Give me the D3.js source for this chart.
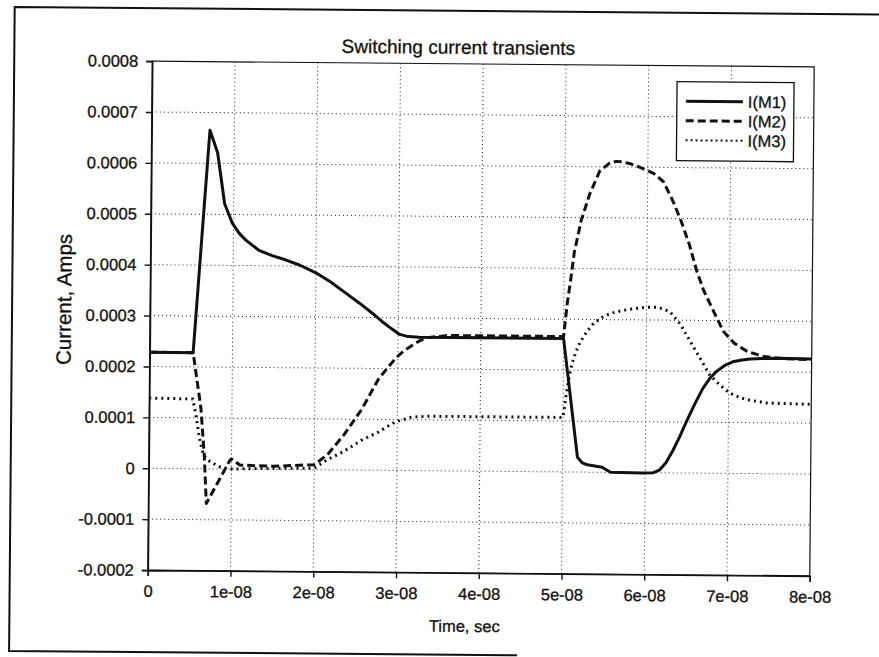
<!DOCTYPE html>
<html>
<head>
<meta charset="utf-8">
<script src="https://cdn.jsdelivr.net/npm/d3@7"></script>
<style>
body { margin: 0; background: #fff; }
svg { font-family: "Liberation Sans", Arial, sans-serif; }
svg text { stroke: #111; stroke-width: 0.3px; }
</style>
</head>
<body>
<svg width="879" height="657"></svg>
<script>
// time in seconds, current in amps
var m1Time = [0, 5.25e-9, 7.05e-9, 8.0e-9, 8.9e-9, 9.85e-9, 1.07e-8, 1.15e-8, 1.31e-8, 1.47e-8, 1.63e-8, 1.8e-8, 2.0e-8, 2.18e-8, 2.36e-8, 2.53e-8, 2.69e-8, 2.8e-8, 2.89e-8, 2.96e-8, 3.01e-8, 3.1e-8, 3.25e-8, 5.0e-8, 5.18e-8, 5.24e-8, 5.30e-8, 5.48e-8, 5.58e-8, 5.96e-8, 6.1e-8, 6.17e-8, 6.25e-8, 6.33e-8, 6.41e-8, 6.49e-8, 6.59e-8, 6.69e-8, 6.77e-8, 6.85e-8, 6.95e-8, 7.06e-8, 7.16e-8, 7.26e-8, 7.4e-8, 7.6e-8, 8.0e-8];
var m1Current = [2.28e-4, 2.28e-4, 6.65e-4, 6.21e-4, 5.21e-4, 4.83e-4, 4.63e-4, 4.5e-4, 4.3e-4, 4.2e-4, 4.12e-4, 4.02e-4, 3.87e-4, 3.69e-4, 3.48e-4, 3.28e-4, 3.08e-4, 2.93e-4, 2.82e-4, 2.74e-4, 2.68e-4, 2.64e-4, 2.62e-4, 2.62e-4, 0.29e-4, 0.18e-4, 0.145e-4, 0.10e-4, 0.0, -0.01e-4, 0.0, 0.05e-4, 0.2e-4, 0.43e-4, 0.7e-4, 1.0e-4, 1.35e-4, 1.67e-4, 1.86e-4, 2.0e-4, 2.12e-4, 2.2e-4, 2.23e-4, 2.25e-4, 2.26e-4, 2.27e-4, 2.26e-4];

var m2Time = [0, 5.25e-9, 6.25e-9, 6.7e-9, 7.0e-9, 9.8e-9, 1.0e-8, 1.1e-8, 1.5e-8, 2.0e-8, 2.16e-8, 2.36e-8, 2.57e-8, 2.77e-8, 2.97e-8, 3.07e-8, 3.17e-8, 3.27e-8, 3.37e-8, 3.6e-8, 5.0e-8, 5.04e-8, 5.08e-8, 5.12e-8, 5.2e-8, 5.3e-8, 5.42e-8, 5.54e-8, 5.62e-8, 5.7e-8, 5.8e-8, 5.9e-8, 6.07e-8, 6.19e-8, 6.31e-8, 6.41e-8, 6.51e-8, 6.6e-8, 6.69e-8, 6.81e-8, 6.93e-8, 7.06e-8, 7.22e-8, 7.42e-8, 7.7e-8, 8.0e-8];
var m2Current = [2.28e-4, 2.28e-4, 1.19e-4, 0.27e-4, -0.68e-4, 0.17e-4, 0.2e-4, 0.08e-4, 0.06e-4, 0.1e-4, 0.3e-4, 0.7e-4, 1.2e-4, 1.8e-4, 2.2e-4, 2.35e-4, 2.46e-4, 2.56e-4, 2.62e-4, 2.66e-4, 2.66e-4, 3.3e-4, 3.78e-4, 4.31e-4, 4.94e-4, 5.46e-4, 5.92e-4, 6.08e-4, 6.11e-4, 6.1e-4, 6.06e-4, 6.0e-4, 5.88e-4, 5.72e-4, 5.33e-4, 4.94e-4, 4.49e-4, 3.98e-4, 3.58e-4, 3.18e-4, 2.79e-4, 2.56e-4, 2.4e-4, 2.3e-4, 2.26e-4, 2.25e-4];

var m3Time = [0, 5.25e-9, 5.65e-9, 6.1e-9, 6.6e-9, 7.4e-9, 8.6e-9, 9.8e-9, 1.5e-8, 2.0e-8, 2.16e-8, 2.36e-8, 2.57e-8, 2.77e-8, 2.97e-8, 3.17e-8, 3.37e-8, 5.0e-8, 5.02e-8, 5.04e-8, 5.07e-8, 5.1e-8, 5.15e-8, 5.2e-8, 5.28e-8, 5.36e-8, 5.46e-8, 5.56e-8, 5.7e-8, 5.85e-8, 6.0e-8, 6.13e-8, 6.22e-8, 6.29e-8, 6.41e-8, 6.53e-8, 6.65e-8, 6.77e-8, 6.89e-8, 6.97e-8, 7.06e-8, 7.16e-8, 7.26e-8, 7.46e-8, 7.7e-8, 8.0e-8];
var m3Current = [1.38e-4, 1.37e-4, 1.06e-4, 0.6e-4, 0.27e-4, 0.14e-4, 0.04e-4, 0.0, 0.02e-4, 0.03e-4, 0.2e-4, 0.37e-4, 0.59e-4, 0.75e-4, 0.95e-4, 1.05e-4, 1.07e-4, 1.07e-4, 1.3e-4, 1.55e-4, 1.85e-4, 2.1e-4, 2.36e-4, 2.55e-4, 2.76e-4, 2.92e-4, 3.04e-4, 3.12e-4, 3.18e-4, 3.22e-4, 3.25e-4, 3.25e-4, 3.21e-4, 3.15e-4, 2.92e-4, 2.59e-4, 2.26e-4, 1.93e-4, 1.74e-4, 1.63e-4, 1.54e-4, 1.48e-4, 1.44e-4, 1.39e-4, 1.38e-4, 1.37e-4];

var seriesNames = ["I(M1)", "I(M2)", "I(M3)"];
var xTicks = [0, 1e-8, 2e-8, 3e-8, 4e-8, 5e-8, 6e-8, 7e-8, 8e-8];
var xTickLabels = ["0", "1e-08", "2e-08", "3e-08", "4e-08", "5e-08", "6e-08", "7e-08", "8e-08"];
var yTicks = [-2e-4, -1e-4, 0, 1e-4, 2e-4, 3e-4, 4e-4, 5e-4, 6e-4, 7e-4, 8e-4];
var yTickLabels = ["-0.0002", "-0.0001", "0", "0.0001", "0.0002", "0.0003", "0.0004", "0.0005", "0.0006", "0.0007", "0.0008"];

var svg = d3.select("svg"),
	margin = {top: 64, right: 67, bottom: 84, left: 150},
	width = +svg.attr("width") - margin.left - margin.right,
	height = +svg.attr("height") - margin.top - margin.bottom;

// the scanned original sits slightly tilted
var page = svg.append("g").attr("transform", "rotate(0.5,481,318.6)");

// outer frame of the scan
page.append("path")
	.attr("d", "M890,11 L12,11 L12,655 L520,655")
	.attr("fill", "none")
	.attr("stroke", "#111")
	.attr("stroke-width", 2);

var g = page.append("g").attr("transform", "translate(" + margin.left + "," + margin.top + ")");

var x = d3.scaleLinear().domain([0, 8e-8]).range([0, width]);
var y = d3.scaleLinear().domain([-2e-4, 8e-4]).range([height, 0]);

// dotted grid
g.append("g")
	.selectAll("line")
	.data(xTicks.slice(1, -1))
	.enter().append("line")
	.attr("x1", function (d) { return x(d); })
	.attr("x2", function (d) { return x(d); })
	.attr("y1", 0)
	.attr("y2", height)
	.attr("stroke", "#222")
	.attr("stroke-dasharray", "1,3");

g.append("g")
	.selectAll("line")
	.data(yTicks.slice(1, -1))
	.enter().append("line")
	.attr("y1", function (d) { return y(d); })
	.attr("y2", function (d) { return y(d); })
	.attr("x1", 0)
	.attr("x2", width)
	.attr("stroke", "#222")
	.attr("stroke-dasharray", "1,3");

g.append("rect")
	.attr("width", width)
	.attr("height", height)
	.attr("fill", "none")
	.attr("stroke", "#111")
	.attr("stroke-width", 1.2);

var xAxis = g.append("g")
	.attr("transform", "translate(0," + height + ")")
	.call(d3.axisBottom(x).tickValues(xTicks).tickSizeOuter(0).tickSize(6).tickPadding(9)
		.tickFormat(function (d, i) { return xTickLabels[i]; }));

var yAxis = g.append("g")
	.call(d3.axisLeft(y).tickValues(yTicks).tickSizeOuter(0).tickSize(6).tickPadding(8)
		.tickFormat(function (d, i) { return yTickLabels[i]; }));

[xAxis, yAxis].forEach(function (a) {
	a.select(".domain").attr("stroke", "#111").attr("stroke-width", 1.6);
	a.selectAll(".tick line").attr("stroke", "#111").attr("stroke-width", 1.4);
	a.selectAll(".tick text")
		.attr("font-family", "'Liberation Sans', Arial, sans-serif")
		.attr("font-size", 16.5)
		.attr("fill", "#111");
});

var line = d3.line()
	.x(function (d) { return x(d[0]); })
	.y(function (d) { return y(d[1]); });

var styles = [
	{dash: null, width: 3},
	{dash: "8,4", width: 3},
	{dash: "2,4", width: 3}
];

var series = [
	d3.zip(m1Time, m1Current),
	d3.zip(m2Time, m2Current),
	d3.zip(m3Time, m3Current)
];

// draw dotted and dashed first so the solid line sits on top
[2, 1, 0].forEach(function (k) {
	g.append("path")
		.datum(series[k])
		.attr("fill", "none")
		.attr("stroke", "#111")
		.attr("stroke-width", styles[k].width)
		.attr("stroke-dasharray", styles[k].dash)
		.attr("stroke-linejoin", "round")
		.attr("d", line);
});

// legend
var legend = g.append("g")
	.attr("transform", "translate(" + (width - 137) + ",16)");

legend.append("rect")
	.attr("width", 117)
	.attr("height", 79)
	.attr("fill", "#fff")
	.attr("stroke", "#111")
	.attr("stroke-width", 1.3);

var item = legend.selectAll(".item")
	.data(seriesNames)
	.enter().append("g")
	.attr("transform", function (d, i) { return "translate(0," + (19.5 + i * 19.5) + ")"; });

item.append("line")
	.attr("x1", 9)
	.attr("x2", 66)
	.attr("stroke", "#111")
	.attr("stroke-width", function (d, i) { return i == 2 ? 2 : 3; })
	.attr("stroke-dasharray", function (d, i) { return i == 0 ? null : (i == 1 ? "8,4" : "2,3"); });

item.append("text")
	.attr("x", 71)
	.attr("dy", "0.36em")
	.attr("font-size", 16.5)
	.attr("fill", "#111")
	.text(function (d) { return d; });

// titles
page.append("text")
	.attr("x", 456)
	.attr("y", 54)
	.attr("text-anchor", "middle")
	.attr("font-size", 19)
	.attr("fill", "#111")
	.text("Switching current transients");

page.append("text")
	.attr("x", 467)
	.attr("y", 632)
	.attr("text-anchor", "middle")
	.attr("font-size", 16.5)
	.attr("fill", "#111")
	.text("Time, sec");

page.append("text")
	.attr("transform", "translate(71,303) rotate(-90)")
	.attr("text-anchor", "middle")
	.attr("font-size", 20.5)
	.attr("fill", "#111")
	.text("Current, Amps");
</script>
</body>
</html>
